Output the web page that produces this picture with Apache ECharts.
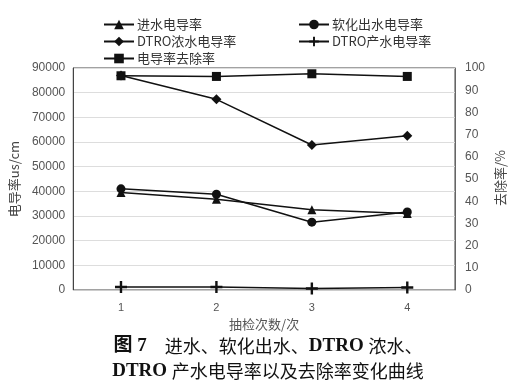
<!DOCTYPE html>
<html><head><meta charset="utf-8">
<script src="https://cdn.jsdelivr.net/npm/echarts@6/dist/echarts.min.js"></script>
<style>html,body{margin:0;padding:0;background:#fff}#c{width:523px;height:383px}</style>
</head><body><div id="c"></div>
<script>
const categories = ['1','2','3','4'];
const inflow = [39500, 36800, 32500, 31000];       // 进水电导率
const softened = [41000, 38800, 27500, 31600];     // 软化出水电导率
const concentrate = [87000, 77300, 58800, 62500];  // DTRO浓水电导率
const permeate = [1200, 1200, 600, 1000];          // DTRO产水电导率
const removal = [96.5, 96.2, 97.4, 96.2];          // 电导率去除率 (%)
const leftTicks = {min: 0, max: 90000, interval: 10000};
const rightTicks = {min: 0, max: 100, interval: 10};

const names = ['进水电导率','软化出水电导率','DTRO浓水电导率','DTRO产水电导率','电导率去除率'];
const plusPath = 'path://M4,0 H6 V4 H10 V6 H6 V10 H4 V6 H0 V4 H4 Z';
const symbols = ['triangle','circle','diamond',plusPath,'rect'];
const sizes = [9,9,10,12,9];
const datas = [inflow, softened, concentrate, permeate, removal];
const font = '"Noto Sans CJK SC", "Noto Sans", sans-serif';
const serif = '"Liberation Serif", "Noto Sans CJK SC", serif';

const legendPos = [[98,13],[293,13],[98,30],[293,30],[98,47]];
const legends = names.map((n,i)=>({
  data:[n], left: legendPos[i][0], top: legendPos[i][1], itemWidth: 30, itemHeight: 12, itemGap: 0,
  textStyle:{fontSize:13, color:'#333', fontFamily: font, padding:[0,0,0,-2]}
}));

const chart = echarts.init(document.getElementById('c'));
chart.setOption({
  animation:false,
  backgroundColor:'#fff',
  legend: legends,
  title:{
    text:'{b|图 7}{n|　进水、软化出水、}{b|DTRO }{n|浓水、}\n{b|DTRO }{n|产水电导率以及去除率变化曲线}',
    left: 263, top: 329, textAlign:'center',
    textStyle:{fontSize:18, color:'#111', lineHeight:25,
      rich:{
        b:{fontSize:19, fontWeight:'bold', fontFamily:serif, color:'#111', lineHeight:25},
        n:{fontSize:18, fontWeight:'normal', fontFamily:font, color:'#111', lineHeight:25}
      }}
  },
  graphic:[{
    type:'text', x:500, y:178, rotation: Math.PI/2,
    style:{text:'去除率/%', fontSize:13, fill:'#444', fontFamily:font, textAlign:'center', textVerticalAlign:'middle'}
  }],
  grid:{left:72, right:68, top:68, bottom:93, show:true, borderColor:'#444', borderWidth:1},
  xAxis:{type:'category', data:categories, boundaryGap:true,
    name:'抽检次数/次', nameLocation:'middle', nameGap:24,
    nameTextStyle:{fontSize:13, color:'#555', fontFamily:font},
    axisLine:{lineStyle:{color:'#ccc'}}, axisTick:{show:false},
    axisLabel:{fontSize:11, color:'#555', margin:12}},
  yAxis:[
    {type:'value', min:leftTicks.min, max:leftTicks.max, interval:leftTicks.interval,
     name:'电导率us/cm', nameLocation:'middle', nameGap:52, nameRotate:90,
     nameTextStyle:{fontSize:13, color:'#444', fontFamily:font},
     axisLine:{show:true, lineStyle:{color:'#444'}}, axisTick:{show:false},
     axisLabel:{fontSize:12, color:'#555', margin:8, formatter: v => String(v)},
     splitLine:{lineStyle:{color:'#ddd'}}},
    {type:'value', min:rightTicks.min, max:rightTicks.max, interval:rightTicks.interval, position:'right',
     axisLine:{show:true, lineStyle:{color:'#666'}}, axisTick:{show:false},
     axisLabel:{fontSize:12, color:'#555', margin:10},
     splitLine:{show:false}}
  ],
  series: names.map((n,i)=>({
    name:n, type:'line', data:datas[i], yAxisIndex: i===4?1:0,
    symbol:symbols[i], symbolSize:sizes[i], showSymbol:true,
    lineStyle:{color:'#111', width:1.5}, itemStyle:{color:'#111'}
  }))
});
</script></body></html>
